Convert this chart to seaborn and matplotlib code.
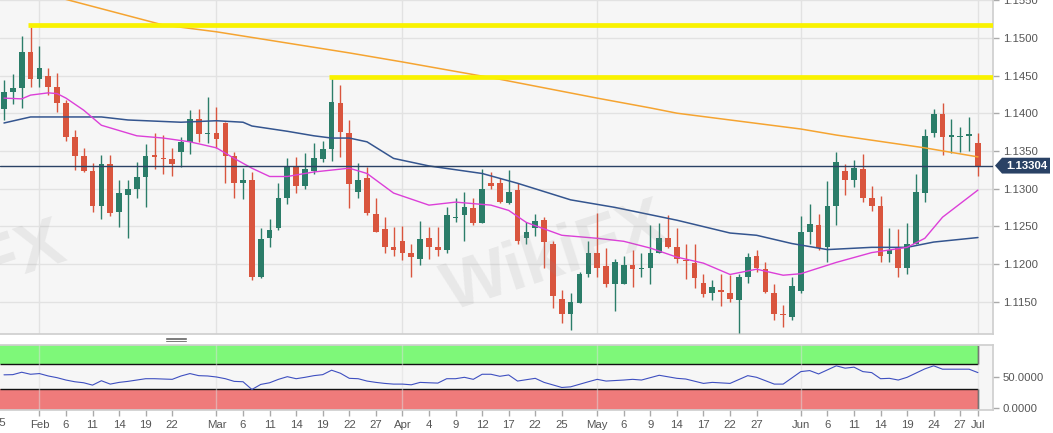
import numpy as np
import pandas as pd
import matplotlib.pyplot as plt
import matplotlib.transforms as mtransforms
from matplotlib.patches import Polygon
from matplotlib.lines import Line2D
import seaborn as sns

# EUR/USD daily candles, one per weekday from 28 Jan to 1 Jul 2019
start_day = "2019-01-28"
end_day = "2019-07-01"

opens = [1.1406, 1.1428, 1.1433, 1.1481, 1.1445, 1.1449, 1.1435, 1.1414, 1.1368, 1.1343,
         1.1323, 1.1277, 1.1332, 1.1269, 1.1292, 1.1299, 1.1315, 1.1344, 1.1340, 1.1339,
         1.1348, 1.1362, 1.1392, 1.1372, 1.1374, 1.1387, 1.1343, 1.1308, 1.1311, 1.1182,
         1.1235, 1.1247, 1.1288, 1.1328, 1.1304, 1.1323, 1.1339, 1.1352, 1.1414, 1.1374,
         1.1296, 1.1314, 1.1266, 1.1246, 1.1223, 1.1231, 1.1214, 1.1206, 1.1235, 1.1222,
         1.1218, 1.1261, 1.1265, 1.1274, 1.1254, 1.1307, 1.1307, 1.1281, 1.1298, 1.1234,
         1.1247, 1.1258, 1.1227, 1.1154, 1.1133, 1.1148, 1.1187, 1.1215, 1.1197, 1.1174,
         1.1174, 1.1199, 1.1193, 1.1195, 1.1215, 1.1235, 1.1223, 1.1205, 1.1201, 1.1175,
         1.1162, 1.1166, 1.1161, 1.1152, 1.1182, 1.1210, 1.1193, 1.1162, 1.1134, 1.1130,
         1.1164, 1.1242, 1.1251, 1.1222, 1.1277, 1.1323, 1.1312, 1.1326, 1.1287, 1.1277,
         1.1213, 1.1222, 1.1195, 1.1227, 1.1294, 1.1374, 1.1399, 1.1368, 1.1368, 1.1370,
         1.1360]
highs = [1.1444, 1.1452, 1.1503, 1.1515, 1.1489, 1.1460, 1.1453, 1.1418, 1.1378, 1.1354,
         1.1334, 1.1344, 1.1344, 1.1311, 1.1311, 1.1335, 1.1359, 1.1374, 1.1371, 1.1354,
         1.1368, 1.1404, 1.1406, 1.1422, 1.1408, 1.1388, 1.1348, 1.1327, 1.1322, 1.1247,
         1.1259, 1.1308, 1.1340, 1.1342, 1.1347, 1.1360, 1.1363, 1.1447, 1.1437, 1.1391,
         1.1334, 1.1328, 1.1287, 1.1262, 1.1249, 1.1250, 1.1227, 1.1257, 1.1249, 1.1249,
         1.1275, 1.1287, 1.1296, 1.1288, 1.1326, 1.1322, 1.1314, 1.1325, 1.1307, 1.1255,
         1.1266, 1.1262, 1.1231, 1.1165, 1.1162, 1.1189, 1.1230, 1.1267, 1.1221, 1.1207,
         1.1210, 1.1219, 1.1214, 1.1251, 1.1254, 1.1265, 1.1247, 1.1227, 1.1227, 1.1187,
         1.1178, 1.1187, 1.1185, 1.1187, 1.1215, 1.1219, 1.1202, 1.1174, 1.1146, 1.1183,
         1.1263, 1.1279, 1.1266, 1.1310, 1.1348, 1.1332, 1.1338, 1.1346, 1.1304, 1.1290,
         1.1247, 1.1246, 1.1254, 1.1319, 1.1379, 1.1406, 1.1414, 1.1392, 1.1382, 1.1395,
         1.1374]
lows = [1.1391, 1.1412, 1.1407, 1.1435, 1.1435, 1.1424, 1.1402, 1.1363, 1.1325, 1.1322,
        1.1269, 1.1259, 1.1263, 1.1249, 1.1235, 1.1288, 1.1275, 1.1326, 1.1319, 1.1316,
        1.1328, 1.1346, 1.1362, 1.1360, 1.1354, 1.1308, 1.1288, 1.1286, 1.1178, 1.1181,
        1.1222, 1.1245, 1.1279, 1.1294, 1.1300, 1.1319, 1.1335, 1.1336, 1.1342, 1.1274,
        1.1288, 1.1265, 1.1242, 1.1214, 1.1210, 1.1205, 1.1183, 1.1199, 1.1207, 1.1210,
        1.1214, 1.1255, 1.1231, 1.1251, 1.1254, 1.1299, 1.1281, 1.1279, 1.1227, 1.1226,
        1.1237, 1.1194, 1.1142, 1.1121, 1.1112, 1.1148, 1.1182, 1.1182, 1.1170, 1.1137,
        1.1173, 1.1169, 1.1183, 1.1174, 1.1214, 1.1221, 1.1201, 1.1180, 1.1168, 1.1156,
        1.1152, 1.1144, 1.1149, 1.1108, 1.1175, 1.1189, 1.1161, 1.1126, 1.1116, 1.1126,
        1.1162, 1.1227, 1.1218, 1.1202, 1.1251, 1.1291, 1.1302, 1.1282, 1.1270, 1.1203,
        1.1203, 1.1182, 1.1186, 1.1226, 1.1282, 1.1368, 1.1344, 1.1347, 1.1348, 1.1350,
        1.1316]
closes = [1.1428, 1.1433, 1.1481, 1.1445, 1.1460, 1.1435, 1.1414, 1.1368, 1.1343, 1.1323,
          1.1277, 1.1332, 1.1268, 1.1294, 1.1299, 1.1315, 1.1343, 1.1342, 1.1339, 1.1332,
          1.1362, 1.1392, 1.1372, 1.1374, 1.1366, 1.1343, 1.1308, 1.1311, 1.1182, 1.1233,
          1.1245, 1.1288, 1.1328, 1.1304, 1.1326, 1.1340, 1.1352, 1.1415, 1.1375, 1.1306,
          1.1312, 1.1268, 1.1243, 1.1223, 1.1219, 1.1214, 1.1209, 1.1233, 1.1223, 1.1218,
          1.1265, 1.1262, 1.1275, 1.1254, 1.1300, 1.1304, 1.1282, 1.1295, 1.1231, 1.1243,
          1.1257, 1.1229, 1.1157, 1.1134, 1.1149, 1.1186, 1.1215, 1.1195, 1.1174, 1.1202,
          1.1199, 1.1193, 1.1194, 1.1215, 1.1235, 1.1223, 1.1206, 1.1204, 1.1181, 1.1160,
          1.1169, 1.1163, 1.1154, 1.1182, 1.1209, 1.1195, 1.1163, 1.1133, 1.1132, 1.1171,
          1.1242, 1.1253, 1.1221, 1.1277, 1.1335, 1.1312, 1.1327, 1.1288, 1.1277, 1.1210,
          1.1218, 1.1194, 1.1226, 1.1295, 1.1370, 1.1399, 1.1368, 1.1371, 1.1370, 1.1372,
          1.13304]

# moving averages at a few dates
ma_slow_dates = ["2019-01-28", "2019-02-06", "2019-02-21", "2019-03-01", "2019-03-22",
                 "2019-04-01", "2019-04-16", "2019-05-01", "2019-05-09", "2019-05-14",
                 "2019-06-03", "2019-06-07", "2019-06-21", "2019-07-01"]
ma_slow = [1.1573, 1.1551, 1.1517, 1.1508, 1.1480, 1.1468, 1.1445, 1.1420, 1.1407, 1.1400,
           1.1379, 1.1371, 1.1354, 1.1342]

ma_mid_dates = ["2019-01-28", "2019-01-31", "2019-02-06", "2019-02-12", "2019-02-15",
                "2019-02-25", "2019-03-01", "2019-03-06", "2019-03-07", "2019-03-13",
                "2019-03-18", "2019-03-20", "2019-03-22", "2019-03-26", "2019-03-29",
                "2019-04-04", "2019-04-12", "2019-04-18", "2019-04-26", "2019-05-03",
                "2019-05-14", "2019-05-22", "2019-05-27", "2019-05-31", "2019-06-06",
                "2019-06-13", "2019-06-19", "2019-06-24", "2019-07-01"]
ma_mid = [1.1387, 1.1395, 1.1395, 1.1395, 1.1391, 1.1388, 1.1390, 1.1388, 1.1383, 1.1376,
          1.1370, 1.1367, 1.1367, 1.1362, 1.1340, 1.1330, 1.1320, 1.1307, 1.1285, 1.1275,
          1.1258, 1.1241, 1.1238, 1.1227, 1.1219, 1.1222, 1.1222, 1.1229, 1.1235]

ma_fast_dates = ["2019-01-28", "2019-01-30", "2019-01-31", "2019-02-04", "2019-02-05",
                 "2019-02-06", "2019-02-08", "2019-02-12", "2019-02-18", "2019-02-21",
                 "2019-02-26", "2019-03-01", "2019-03-05", "2019-03-07", "2019-03-11",
                 "2019-03-13", "2019-03-18", "2019-03-22", "2019-03-26", "2019-03-29",
                 "2019-04-04", "2019-04-09", "2019-04-15", "2019-04-17", "2019-04-19",
                 "2019-04-25", "2019-05-01", "2019-05-06", "2019-05-09", "2019-05-14",
                 "2019-05-17", "2019-05-22", "2019-05-27", "2019-05-30", "2019-06-03",
                 "2019-06-07", "2019-06-13", "2019-06-19", "2019-06-21", "2019-06-25",
                 "2019-07-01"]
ma_fast = [1.1420, 1.1419, 1.1424, 1.1427, 1.1426, 1.1420, 1.1404, 1.1384, 1.1370, 1.1367,
           1.1362, 1.1354, 1.1340, 1.1327, 1.1316, 1.1316, 1.1322, 1.1327, 1.1320, 1.1294,
           1.1278, 1.1282, 1.1278, 1.1271, 1.1255, 1.1238, 1.1234, 1.1230, 1.1221, 1.1209,
           1.1201, 1.1186, 1.1193, 1.1185, 1.1187, 1.1202, 1.1215, 1.1222, 1.1234, 1.1262,
           1.1298]

# RSI panel
rsi_dates = ["2019-01-28", "2019-01-29", "2019-01-30", "2019-01-31", "2019-02-01",
             "2019-02-04", "2019-02-05", "2019-02-06", "2019-02-07", "2019-02-08",
             "2019-02-11", "2019-02-12", "2019-02-13", "2019-02-14", "2019-02-15",
             "2019-02-18", "2019-02-19", "2019-02-20", "2019-02-21", "2019-02-22",
             "2019-02-25", "2019-02-26", "2019-02-27", "2019-02-28", "2019-03-01",
             "2019-03-04", "2019-03-05", "2019-03-06", "2019-03-07", "2019-03-08",
             "2019-03-11", "2019-03-12", "2019-03-13", "2019-03-14", "2019-03-15",
             "2019-03-18", "2019-03-19", "2019-03-20", "2019-03-21", "2019-03-22",
             "2019-03-25", "2019-03-26", "2019-03-27", "2019-03-28", "2019-03-29",
             "2019-04-01", "2019-04-02", "2019-04-03", "2019-04-04", "2019-04-05",
             "2019-04-08", "2019-04-09", "2019-04-10", "2019-04-11", "2019-04-12",
             "2019-04-15", "2019-04-16", "2019-04-17", "2019-04-18", "2019-04-22",
             "2019-04-23", "2019-04-25", "2019-04-26", "2019-04-30", "2019-05-01",
             "2019-05-02", "2019-05-06", "2019-05-07", "2019-05-08", "2019-05-10",
             "2019-05-14", "2019-05-15", "2019-05-17", "2019-05-20", "2019-05-22",
             "2019-05-24", "2019-05-27", "2019-05-29", "2019-05-30", "2019-06-03",
             "2019-06-04", "2019-06-05", "2019-06-07", "2019-06-10", "2019-06-11",
             "2019-06-12", "2019-06-13", "2019-06-14", "2019-06-17", "2019-06-18",
             "2019-06-19", "2019-06-21", "2019-06-24", "2019-06-25", "2019-06-27",
             "2019-06-28", "2019-07-01"]
rsi = [53.0, 53.3, 57.1, 53.9, 55.0, 51.2, 48.5, 44.8, 42.1, 40.5,
       36.8, 43.7, 38.4, 41.1, 42.7, 44.8, 46.9, 46.9, 46.4, 45.9,
       51.2, 55.0, 51.7, 51.2, 49.6, 46.9, 42.7, 42.1, 29.9, 37.9,
       40.5, 45.9, 50.1, 46.9, 49.1, 51.7, 53.3, 60.3, 55.5, 47.5,
       46.9, 43.2, 41.1, 39.5, 38.4, 38.4, 37.3, 41.1, 40.5, 40.0,
       46.9, 46.9, 49.1, 45.9, 53.9, 53.9, 50.7, 52.8, 43.2, 47.5,
       41.1, 33.1, 34.1, 42.1, 45.9, 43.2, 44.8, 45.9, 44.8, 52.3,
       47.5, 46.4, 39.5, 41.1, 39.5, 51.7, 49.1, 38.4, 38.4, 58.1,
       59.7, 54.4, 67.2, 63.5, 65.1, 58.1, 56.5, 46.9, 47.5, 44.8,
       49.1, 62.4, 67.2, 61.9, 61.9, 61.9, 56.5]

# horizontal resistance levels (yellow) and where they start
levels = [1.1517, 1.1448]
level_from = ["2019-01-31", "2019-03-20"]
last_price = 1.13304

price_ticks = [1.1150, 1.1200, 1.1250, 1.1300, 1.1350, 1.1400, 1.1450, 1.1500, 1.1550]
rsi_ticks = [0, 50]

tick_dates = ["2019-02-01", "2019-02-06", "2019-02-11", "2019-02-14", "2019-02-19", "2019-02-22",
              "2019-03-01", "2019-03-06", "2019-03-11", "2019-03-14", "2019-03-19", "2019-03-22",
              "2019-03-27", "2019-04-01", "2019-04-04", "2019-04-09", "2019-04-12", "2019-04-17",
              "2019-04-22", "2019-04-25", "2019-05-01", "2019-05-06", "2019-05-09", "2019-05-14",
              "2019-05-17", "2019-05-22", "2019-05-27", "2019-06-03", "2019-06-06", "2019-06-11",
              "2019-06-14", "2019-06-19", "2019-06-24", "2019-06-27", "2019-07-01"]
tick_labels = ["Feb", "6", "11", "14", "19", "22", "Mar", "6", "11", "14", "19", "22", "27",
               "Apr", "4", "9", "12", "17", "22", "25", "May", "6", "9", "14", "17", "22", "27",
               "Jun", "6", "11", "14", "19", "24", "27", "Jul"]

GREEN = "#2b7d69"
RED = "#d9553e"
NAVY = "#2a4265"
TXT = "#555555"
GRID = "#e2e2e2"

days = pd.bdate_range(start_day, end_day)


def to_pos(dates):
    return days.get_indexer(pd.to_datetime(dates))


sns.set_theme(style="white")
plt.rcParams["font.family"] = ["Liberation Sans", "DejaVu Sans"]

W, H = 1053, 433
fig = plt.figure(figsize=(W / 100, H / 100), dpi=100, facecolor="white")
ax = fig.add_axes([0, 99 / H, 993 / W, 334 / H])
ax_rsi = fig.add_axes([0, 23 / H, 993 / W, 65 / H])

xmin, xmax = -0.45, 111.7
last_pos = len(days) - 1

# ---- main price panel ----
ax.set_facecolor("#f6f6f6")
for yv in price_ticks:
    ax.axhline(yv, color=GRID, lw=1, zorder=0)
month_dates = [d for d, l in zip(tick_dates, tick_labels) if not l.isdigit()]
for p in to_pos(month_dates):
    ax.axvline(p, color=GRID, lw=1, zorder=0)
    ax_rsi.axvline(p, color="#dddddd", lw=1, alpha=0.5, zorder=3)

# faint site watermark
fig.text(555 / W, 1 - 258 / H, "WikiFX", fontsize=50, fontweight="bold", color="#8a8a8a",
         alpha=0.13, rotation=18, ha="center", va="center", zorder=0.5)
fig.text(64 / W, 1 - 243 / H, "WikiFX", fontsize=50, fontweight="bold", color="#8a8a8a",
         alpha=0.13, rotation=18, ha="right", va="center", rotation_mode="anchor", zorder=0.5)

candles = pd.DataFrame({"pos": np.arange(len(days)), "open": opens, "high": highs,
                        "low": lows, "close": closes})
up = candles["close"] >= candles["open"]
cols = np.where(up, GREEN, RED)
body_lo = np.minimum(candles["open"], candles["close"])
body_h = np.maximum((candles["close"] - candles["open"]).abs(), 0.00012)
ax.vlines(candles["pos"], candles["low"], candles["high"], colors=cols, lw=1, zorder=3)
ax.bar(candles["pos"], body_h, bottom=body_lo, width=0.64, color=cols, linewidth=0, zorder=4)

sns.lineplot(x=to_pos(ma_slow_dates), y=ma_slow, ax=ax, color="#f5a431", lw=1.1, zorder=5)
sns.lineplot(x=to_pos(ma_mid_dates), y=ma_mid, ax=ax, color="#34558f", lw=1.1, zorder=5)
sns.lineplot(x=to_pos(ma_fast_dates), y=ma_fast, ax=ax, color="#dc3fd8", lw=1.0, zorder=5)

for lv, d in zip(levels, level_from):
    ax.hlines(lv, to_pos([d])[0] - 0.3, xmax, color="#f9f200", lw=3.4, zorder=6)

ax.axhline(last_price, color=NAVY, lw=1, zorder=6)

ax.set_xlim(xmin, xmax)
ax.set_ylim(1.1107, 1.15502)
ax.set_xticks([])
ax.yaxis.tick_right()
ax.set_yticks(price_ticks)
ax.set_yticklabels([f"{v:.4f}" for v in price_ticks])
ax.tick_params(axis="y", right=True, length=4, width=1, color="#aaaaaa", pad=3,
               labelsize=8.2, labelcolor=TXT)
for side in ["left", "top"]:
    ax.spines[side].set_visible(False)
for side in ["right", "bottom"]:
    ax.spines[side].set_color("#cfcfcf")

# price tag at the right
tr = mtransforms.blended_transform_factory(fig.transFigure, ax.transData)
half = 0.00105
x0, x1, x2 = 995 / W, 1002 / W, 1050 / W
tag = Polygon([[x0, last_price], [x1, last_price + half], [x2, last_price + half],
               [x2, last_price - half], [x1, last_price - half]],
              closed=True, transform=tr, fc=NAVY, ec="none", zorder=10)
fig.add_artist(tag)
fig.text((x1 + x2) / 2 + 0.001, last_price, "1.13304", transform=tr, color="white",
         fontweight="bold", fontsize=8.2, ha="center", va="center", zorder=11)

# splitter handle between panels
for yy in [337.6, 339.3, 341.0]:
    fig.add_artist(Line2D([166 / W, 186 / W], [1 - yy / H, 1 - yy / H], color="#7a7a7a", lw=0.7))

# ---- RSI panel ----
ax_rsi.set_facecolor("#f6f6f6")
ax_rsi.fill_between([xmin, last_pos], 70, 100, color="#7ef879", lw=0, zorder=1)
ax_rsi.fill_between([xmin, last_pos], -2.4, 30, color="#ef7b7b", lw=0, zorder=1)
ax_rsi.hlines([70, 30], xmin, last_pos, color="#111111", lw=1, zorder=2)
ax_rsi.vlines(last_pos, 70, 100, color="#111111", lw=1, zorder=2)
ax_rsi.vlines(last_pos, -2.4, 30, color="#111111", lw=1, zorder=2)
sns.lineplot(x=to_pos(rsi_dates), y=rsi, ax=ax_rsi, color="#3e4fc0", lw=0.8, zorder=4)

ax_rsi.set_xlim(xmin, xmax)
ax_rsi.set_ylim(-2.4, 100)
ax_rsi.yaxis.tick_right()
ax_rsi.set_yticks(rsi_ticks)
ax_rsi.set_yticklabels([f"{v:.4f}" for v in rsi_ticks])
ax_rsi.set_xticks(to_pos(tick_dates))
ax_rsi.set_xticklabels(tick_labels)
ax_rsi.tick_params(axis="both", length=4, width=1, color="#aaaaaa", pad=3,
                   labelsize=8.2, labelcolor=TXT)
ax_rsi.tick_params(axis="x", bottom=True)
ax_rsi.tick_params(axis="y", right=True)
ax_rsi.set_xlabel("")
ax_rsi.set_ylabel("")
ax.set_xlabel("")
ax.set_ylabel("")
ax_rsi.spines["left"].set_visible(False)
for side in ["right", "bottom", "top"]:
    ax_rsi.spines[side].set_color("#cfcfcf")

# the cut-off "25" (Jan 25) at the far left
ax_rsi.annotate("25", xy=(-0.5, 0), xycoords=("data", "axes fraction"), xytext=(0, -6),
                textcoords="offset points", ha="center", va="top", fontsize=8.2,
                color=TXT, annotation_clip=False)

fig.savefig("out.png", dpi=100, facecolor="white")
